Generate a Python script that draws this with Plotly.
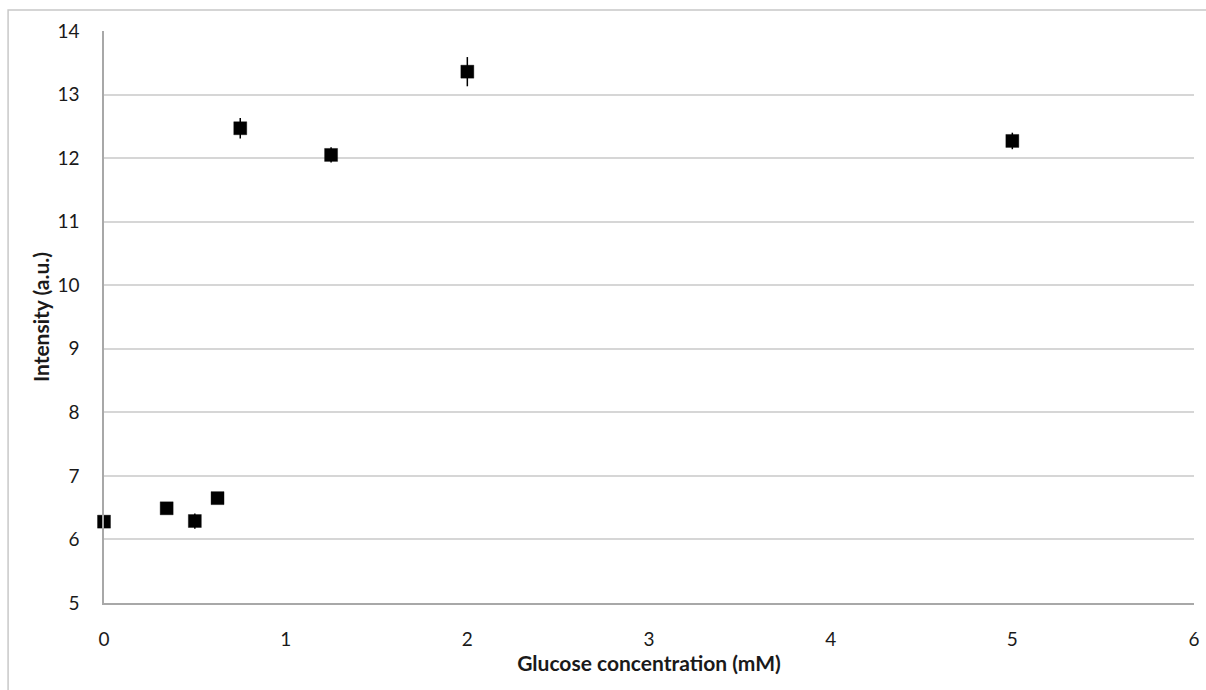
import plotly.graph_objects as go

# Glucose concentration (mM) vs. measured intensity (a.u.)
glucose_mM = [0, 0.345, 0.5, 0.625, 0.75, 1.25, 2, 5]
intensity = [6.28, 6.49, 6.29, 6.65, 12.47, 12.05, 13.36, 12.27]
intensity_err = [0.08, 0.08, 0.12, 0.08, 0.16, 0.12, 0.23, 0.13]

x_ticks = [0, 1, 2, 3, 4, 5, 6]
y_ticks = [5, 6, 7, 8, 9, 10, 11, 12, 13, 14]

font_family = "Lato, Open Sans, sans-serif"

fig = go.Figure()

fig.add_trace(go.Scatter(
    x=glucose_mM,
    y=intensity,
    mode="markers",
    cliponaxis=False,
    marker=dict(symbol="square", size=13, color="black",
                line=dict(color="rgba(0,0,0,0.35)", width=1)),
    error_y=dict(type="data", array=intensity_err, visible=True,
                 color="black", thickness=1.5, width=0),
    showlegend=False,
))

# Outer chart-area border
fig.add_shape(type="rect", xref="paper", yref="paper",
              x0=-0.088, x1=1.02, y0=-0.2, y1=1.0367,
              line=dict(color="#c8c8c8", width=1.5), layer="below")

fig.update_layout(
    width=1206, height=690,
    margin=dict(l=104, r=6, t=31, b=87),
    paper_bgcolor="white", plot_bgcolor="white",
    font=dict(family=font_family, size=19, color="#1a1a1a"),
    xaxis=dict(
        range=[0, 6], tickvals=x_ticks, ticktext=[str(v) for v in x_ticks],
        showgrid=False, zeroline=False,
        showline=True, linecolor="#a8a8a8", linewidth=1.5,
        ticks="outside", ticklen=18, tickcolor="rgba(0,0,0,0)",
        tickfont=dict(size=19),
        title=dict(text="<b>Glucose concentration (mM)</b>", font=dict(size=21), standoff=1),
    ),
    yaxis=dict(
        range=[5, 14], tickvals=y_ticks, ticktext=[str(v) for v in y_ticks],
        showgrid=True, gridcolor="#d6d6d6", gridwidth=1.6,
        zeroline=False,
        showline=True, linecolor="#a8a8a8", linewidth=1.5,
        ticks="outside", ticklen=19, tickcolor="rgba(0,0,0,0)",
        tickfont=dict(size=19),
        title=dict(text="<b>Intensity (a.u.)</b>", font=dict(size=21), standoff=2),
    ),
)

fig.write_html("out.html")
